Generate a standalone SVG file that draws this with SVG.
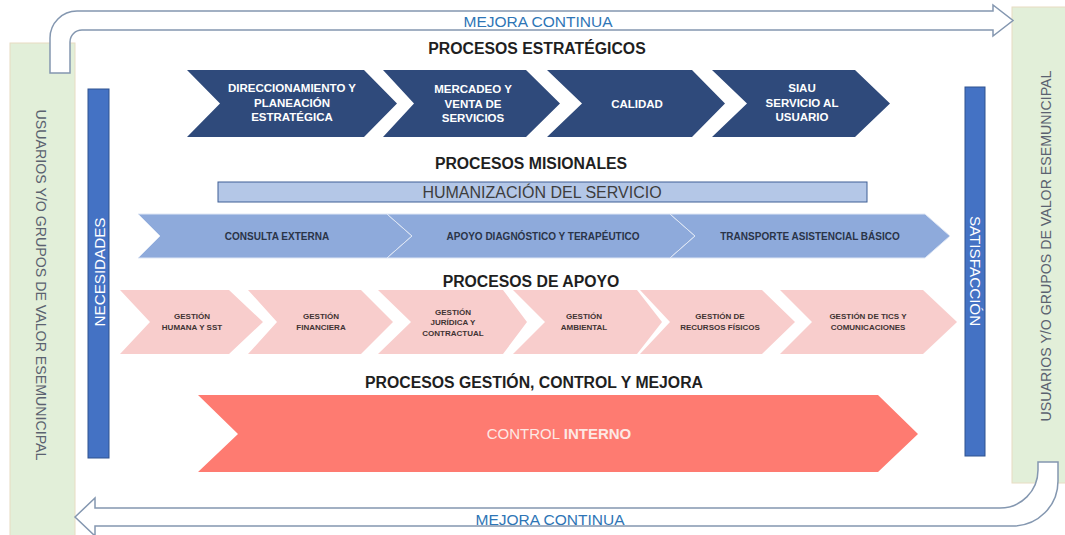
<svg xmlns="http://www.w3.org/2000/svg" width="1065" height="535" viewBox="0 0 1065 535">
<style>
text{font-family:"Liberation Sans",Arial,sans-serif}
.panel{fill:#e2efd9;stroke:#e8dcc2;stroke-width:1}
.side{font-size:14.2px;fill:#5b6270}
.bar{fill:#4472c4;stroke:#2f528f;stroke-width:1}
.barT{font-size:15.2px;fill:#ffffff}
.title{font-size:15.8px;font-weight:bold;fill:#1f1f1f;text-anchor:middle}
.mejora{font-size:15.5px;fill:#2e75b6;text-anchor:middle}
.flow{fill:#ffffff;stroke:#8497b0;stroke-width:1.5}
.est{fill:#2f4a7b}
.estT{font-size:11.5px;font-weight:bold;fill:#ffffff;text-anchor:middle}
.mis{fill:#8eaadb;stroke:#dfe7f5;stroke-width:1}
.misT{font-size:10px;font-weight:bold;fill:#2a3448;text-anchor:middle}
.apo{fill:#f8cdcc}
.apoT{font-size:8px;font-weight:bold;fill:#3f3333;text-anchor:middle}
.ctl{fill:#fe7b71}
</style>

<g id="usuarios-left">
<rect class="panel" x="10" y="43" width="65" height="500"/>
<text class="side" transform="translate(41,285) rotate(90)" text-anchor="middle" dominant-baseline="central">USUARIOS Y/O GRUPOS DE VALOR ESEMUNICIPAL</text>
</g>
<g id="usuarios-right">
<rect class="panel" x="1012" y="7" width="60" height="476"/>
<text class="side" transform="translate(1046,246) rotate(-90)" text-anchor="middle" dominant-baseline="central">USUARIOS Y/O GRUPOS DE VALOR ESEMUNICIPAL</text>
</g>

<g id="connectors">
<path class="flow" d="M50,73 L50,38 A27,27 0 0 1 77,11 L993,11 L993,5 L1013,20.5 L993,36 L993,30 L82,30 A12,12 0 0 0 70,42 L70,73 Z"/>
<path class="flow" d="M75,517 L95,498 L95,508 L1000,508 A38,38 0 0 0 1038,470 L1038,462 L1058,462 L1058,481 A45,45 0 0 1 1013,526 L95,526 L95,536 Z"/>
</g>
<g id="mejora-top"><text class="mejora" x="538" y="27">MEJORA CONTINUA</text></g>
<g id="mejora-bottom"><text class="mejora" x="550" y="525">MEJORA CONTINUA</text></g>

<g id="necesidades">
<rect class="bar" x="88" y="89" width="21" height="369"/>
<text class="barT" transform="translate(99,272) rotate(-90)" text-anchor="middle" dominant-baseline="central">NECESIDADES</text>
</g>
<g id="satisfaccion">
<rect class="bar" x="965" y="87" width="20" height="369"/>
<text class="barT" transform="translate(975,271) rotate(90)" text-anchor="middle" dominant-baseline="central">SATISFACCIÓN</text>
</g>

<g id="t-estrategicos"><text class="title" x="537" y="54">PROCESOS ESTRATÉGICOS</text></g>

<g id="direccionamiento">
<polygon class="est" points="187,70 364,70 397,103.5 364,137 187,137 220,103.5"/>
<text class="estT" x="292" y="92">DIRECCIONAMIENTO Y</text>
<text class="estT" x="292" y="106.5">PLANEACIÓN</text>
<text class="estT" x="292" y="121">ESTRATÉGICA</text>
</g>
<g id="mercadeo">
<polygon class="est" points="383,70 526,70 560,103.5 526,137 383,137 414,103.5"/>
<text class="estT" x="473" y="93">MERCADEO Y</text>
<text class="estT" x="473" y="107.5">VENTA DE</text>
<text class="estT" x="473" y="122">SERVICIOS</text>
</g>
<g id="calidad">
<polygon class="est" points="547,70 692,70 725,103.5 692,137 547,137 582,103.5"/>
<text class="estT" x="637" y="107.5">CALIDAD</text>
</g>
<g id="siau">
<polygon class="est" points="712,70 855,70 890,103.5 855,137 712,137 747,103.5"/>
<text class="estT" x="802" y="92">SIAU</text>
<text class="estT" x="802" y="106.5">SERVICIO AL</text>
<text class="estT" x="802" y="121">USUARIO</text>
</g>

<g id="t-misionales"><text class="title" x="531" y="169">PROCESOS MISIONALES</text></g>

<g id="humanizacion">
<rect x="218" y="182" width="649" height="20" fill="#b4c7e7" stroke="#3f5f95" stroke-width="1"/>
<text x="542" y="197.5" text-anchor="middle" font-size="16" fill="#3d3d3d">HUMANIZACIÓN DEL SERVICIO</text>
</g>

<g id="consulta">
<polygon class="mis" points="138,214 387,214 412,236 387,258 138,258 160,236"/>
<text class="misT" x="277" y="239.5">CONSULTA EXTERNA</text>
</g>
<g id="apoyo-diag">
<polygon class="mis" points="387,214 670,214 695,236 670,258 387,258 412,236"/>
<text class="misT" x="543" y="239.5">APOYO DIAGNÓSTICO Y TERAPÉUTICO</text>
</g>
<g id="transporte">
<polygon class="mis" points="670,214 925,214 950,236 925,258 670,258 695,236"/>
<text class="misT" x="810" y="239.5">TRANSPORTE ASISTENCIAL BÁSICO</text>
</g>

<g id="t-apoyo"><text class="title" x="531" y="287">PROCESOS DE APOYO</text></g>

<g id="g-humana">
<polygon class="apo" points="120,290 229,290 263,322 229,354 120,354 150,322"/>
<text class="apoT" x="192" y="319">GESTIÓN</text>
<text class="apoT" x="192" y="330">HUMANA Y SST</text>
</g>
<g id="g-financiera">
<polygon class="apo" points="248,290 361,290 393,322 361,354 248,354 277,322"/>
<text class="apoT" x="321" y="319">GESTIÓN</text>
<text class="apoT" x="321" y="330">FINANCIERA</text>
</g>
<g id="g-juridica">
<polygon class="apo" points="378,290 503,290 527,322 503,354 378,354 411,322"/>
<text class="apoT" x="453" y="314.5">GESTIÓN</text>
<text class="apoT" x="453" y="325">JURÍDICA Y</text>
<text class="apoT" x="453" y="335.5">CONTRACTUAL</text>
</g>
<g id="g-ambiental">
<polygon class="apo" points="513,290 637,290 662,322 637,354 513,354 545,322"/>
<text class="apoT" x="584" y="319">GESTIÓN</text>
<text class="apoT" x="584" y="330">AMBIENTAL</text>
</g>
<g id="g-recursos">
<polygon class="apo" points="640,290 762,290 795,322 762,354 640,354 670,322"/>
<text class="apoT" x="720" y="319">GESTIÓN DE</text>
<text class="apoT" x="720" y="330">RECURSOS FÍSICOS</text>
</g>
<g id="g-tics">
<polygon class="apo" points="780,290 923,290 957,322 923,354 780,354 812,322"/>
<text class="apoT" x="868" y="319">GESTIÓN DE TICS Y</text>
<text class="apoT" x="868" y="330">COMUNICACIONES</text>
</g>

<g id="t-gestion"><text class="title" x="534" y="388">PROCESOS GESTIÓN, CONTROL Y MEJORA</text></g>

<g id="control-interno">
<polygon class="ctl" points="198,395 878,395 918,434 878,472 198,472 238,434"/>
<text x="559" y="439" text-anchor="middle" font-size="15" fill="#fde8e4">CONTROL <tspan font-weight="bold">INTERNO</tspan></text>
</g>
</svg>
